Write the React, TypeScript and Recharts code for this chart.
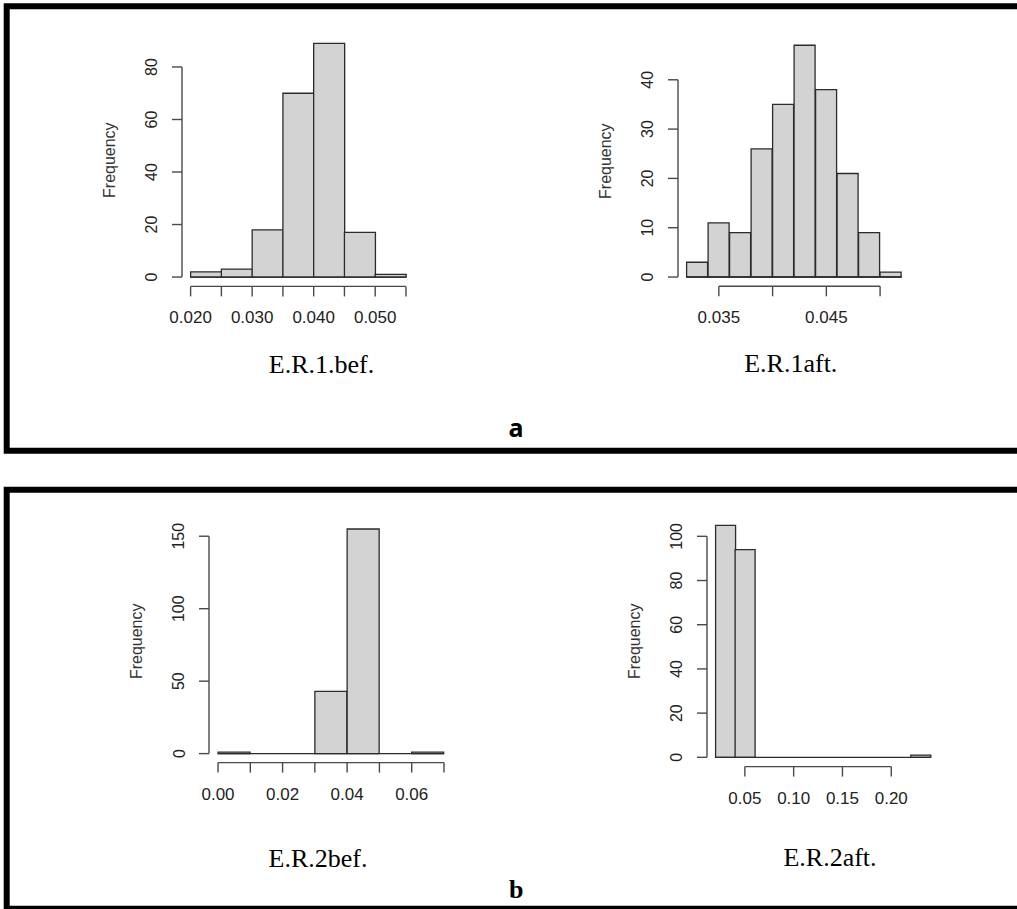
import React from 'react';
import { BarChart, Bar, XAxis, YAxis, ReferenceLine } from 'recharts';

// ---------- data ----------
const er1befEdges = [0.02, 0.025, 0.03, 0.035, 0.04, 0.045, 0.05, 0.055];
const er1befCounts = [2, 3, 18, 70, 89, 17, 1];
const er1befXTicks = [0.02, 0.025, 0.03, 0.035, 0.04, 0.045, 0.05, 0.055];
const er1befXLabels = ['0.020', '', '0.030', '', '0.040', '', '0.050', ''];
const er1befYTicks = [0, 20, 40, 60, 80];

const er1aftEdges = [0.032, 0.034, 0.036, 0.038, 0.04, 0.042, 0.044, 0.046, 0.048, 0.05, 0.052];
const er1aftCounts = [3, 11, 9, 26, 35, 47, 38, 21, 9, 1];
const er1aftXTicks = [0.035, 0.04, 0.045, 0.05];
const er1aftXLabels = ['0.035', '', '0.045', ''];
const er1aftYTicks = [0, 10, 20, 30, 40];

const er2befEdges = [0.0, 0.01, 0.02, 0.03, 0.04, 0.05, 0.06, 0.07];
const er2befCounts = [1, 0, 0, 43, 155, 0, 1];
const er2befXTicks = [0.0, 0.01, 0.02, 0.03, 0.04, 0.05, 0.06, 0.07];
const er2befXLabels = ['0.00', '', '0.02', '', '0.04', '', '0.06', ''];
const er2befYTicks = [0, 50, 100, 150];

const er2aftEdges = [0.02, 0.04, 0.06, 0.08, 0.1, 0.12, 0.14, 0.16, 0.18, 0.2, 0.22, 0.24];
const er2aftCounts = [105, 94, 0, 0, 0, 0, 0, 0, 0, 0, 1];
const er2aftXTicks = [0.05, 0.1, 0.15, 0.2];
const er2aftXLabels = ['0.05', '0.10', '0.15', '0.20'];
const er2aftYTicks = [0, 20, 40, 60, 80, 100];

const chartTitles = ['E.R.1.bef.', 'E.R.1aft.', 'E.R.2bef.', 'E.R.2aft.'];
const panelLabels = ['a', 'b'];
const yAxisTitle = 'Frequency';

// ---------- styles / layout ----------
const SANS = '"Liberation Sans", Arial, sans-serif';
const SERIF = '"Liberation Serif", "Times New Roman", serif';
const TEXT_COLOR = '#222';
const AXIS_COLOR = '#4a4a4a';
const Y_AXIS_W = 100;
const X_AXIS_H = 60;
const M_TOP = 10;
const M_RIGHT = 10;

type HistProps = {
  edges: number[];
  counts: number[];
  xTicks: number[];
  xLabels: string[];
  yTicks: number[];
  left: number;
  top: number;
  plotW: number;
  plotH: number;
};

function Histogram({ edges, counts, xTicks, xLabels, yTicks, left, top, plotW, plotH }: HistProps) {
  const data = counts.map((c, i) => ({ mid: (edges[i] + edges[i + 1]) / 2, count: c }));
  const x0 = edges[0];
  const x1 = edges[edges.length - 1];
  const xPad = 0.04 * (x1 - x0);
  const yMax = Math.max(...counts);
  const yPad = 0.04 * yMax;
  const xDomain: [number, number] = [x0 - xPad, x1 + xPad];
  const yDomain: [number, number] = [-yPad, yMax + yPad];

  const XTick = (props: any) => {
    const { x, y, payload } = props;
    const idx = xTicks.findIndex((t) => Math.abs(t - payload.value) < 1e-9);
    const label = idx >= 0 ? xLabels[idx] : '';
    if (!label) return <g />;
    return (
      <text x={x} y={y} textAnchor="middle" fill={TEXT_COLOR} fontSize={17} fontFamily={SANS}>
        {label}
      </text>
    );
  };

  const YTick = (props: any) => {
    const { x, y, payload } = props;
    return (
      <text
        x={x}
        y={y}
        transform={`rotate(-90 ${x} ${y})`}
        textAnchor="middle"
        fill={TEXT_COLOR}
        fontSize={16}
        fontFamily={SANS}
      >
        {String(payload.value)}
      </text>
    );
  };

  return (
    <div style={{ position: 'absolute', left: left - Y_AXIS_W, top: top - M_TOP }}>
      <BarChart
        width={Y_AXIS_W + plotW + M_RIGHT}
        height={M_TOP + plotH + X_AXIS_H}
        data={data}
        margin={{ top: M_TOP, right: M_RIGHT, bottom: 0, left: 0 }}
        barCategoryGap={0}
        barGap={0}
      >
        <XAxis
          dataKey="mid"
          type="number"
          domain={xDomain}
          allowDataOverflow
          ticks={xTicks}
          interval={0}
          axisLine={false}
          tickLine={{ stroke: AXIS_COLOR, strokeWidth: 1.4 }}
          tickSize={10}
          tickMargin={27}
          height={X_AXIS_H}
          tick={XTick}
        />
        <YAxis
          type="number"
          domain={yDomain}
          allowDataOverflow
          ticks={yTicks}
          interval={0}
          axisLine={false}
          tickLine={{ stroke: AXIS_COLOR, strokeWidth: 1.4 }}
          tickSize={10}
          tickMargin={14.5}
          width={Y_AXIS_W}
          tick={YTick}
          label={{
            value: yAxisTitle,
            angle: -90,
            position: 'insideLeft',
            offset: 27.5,
            fill: '#333',
            style: { textAnchor: 'middle', fontSize: 16, fontFamily: SANS, fill: '#333' },
          }}
        />
        <Bar
          dataKey="count"
          fill="#d3d3d3"
          stroke="#2b2b2b"
          strokeWidth={1.3}
          isAnimationActive={false}
        />
        <ReferenceLine
          segment={[{ x: x0, y: 0 }, { x: x1, y: 0 }]}
          stroke="#2b2b2b"
          strokeWidth={1.3}
          ifOverflow="visible"
        />
        <ReferenceLine
          segment={[{ x: xDomain[0], y: yTicks[0] }, { x: xDomain[0], y: yTicks[yTicks.length - 1] }]}
          stroke={AXIS_COLOR}
          strokeWidth={1.4}
          ifOverflow="visible"
        />
        <ReferenceLine
          segment={[{ x: xTicks[0], y: yDomain[0] }, { x: xTicks[xTicks.length - 1], y: yDomain[0] }]}
          stroke={AXIS_COLOR}
          strokeWidth={1.4}
          ifOverflow="visible"
        />
      </BarChart>
    </div>
  );
}

export default function App() {
  return (
    <div
      style={{
        position: 'absolute',
        left: 0,
        top: 0,
        width: 1017,
        height: 909,
        background: '#fff',
        overflow: 'hidden',
      }}
    >
      <svg
        width={1017}
        height={909}
        style={{ position: 'absolute', left: 0, top: 0 }}
      >
        <path d="M 1025 6.2 H 6.7 V 450.7 H 1025" fill="none" stroke="#000" strokeWidth={6} />
        <path d="M 1025 489.7 H 6.7 V 908.7 H 1025" fill="none" stroke="#000" strokeWidth={6} />
        <text x={321.5} y={372.5} textAnchor="middle" fontFamily={SERIF} fontSize={26} fill="#000">
          {chartTitles[0]}
        </text>
        <text x={790.8} y={371.7} textAnchor="middle" fontFamily={SERIF} fontSize={26} fill="#000">
          {chartTitles[1]}
        </text>
        <text x={318} y={866.5} textAnchor="middle" fontFamily={SERIF} fontSize={26} fill="#000">
          {chartTitles[2]}
        </text>
        <text x={830} y={865.7} textAnchor="middle" fontFamily={SERIF} fontSize={26} fill="#000">
          {chartTitles[3]}
        </text>
        <text
          x={516}
          y={436.6}
          textAnchor="middle"
          fontFamily='"Noto Sans", "Open Sans", sans-serif'
          fontWeight="bold"
          fontSize={25}
          fill="#000"
        >
          {panelLabels[0]}
        </text>
        <text x={516.3} y={897.7} textAnchor="middle" fontFamily={SERIF} fontWeight="bold" fontSize={26} fill="#000">
          {panelLabels[1]}
        </text>
      </svg>

      <Histogram
        edges={er1befEdges}
        counts={er1befCounts}
        xTicks={er1befXTicks}
        xLabels={er1befXLabels}
        yTicks={er1befYTicks}
        left={181.7}
        top={34.3}
        plotW={232.6}
        plotH={252.4}
      />
      <Histogram
        edges={er1aftEdges}
        counts={er1aftCounts}
        xTicks={er1aftXTicks}
        xLabels={er1aftXLabels}
        yTicks={er1aftYTicks}
        left={678.2}
        top={36.3}
        plotW={232.2}
        plotH={250.3}
      />
      <Histogram
        edges={er2befEdges}
        counts={er2befCounts}
        xTicks={er2befXTicks}
        xLabels={er2befXLabels}
        yTicks={er2befYTicks}
        left={209.3}
        top={519.7}
        plotW={244}
        plotH={242.6}
      />
      <Histogram
        edges={er2aftEdges}
        counts={er2aftCounts}
        xTicks={er2aftXTicks}
        xLabels={er2aftXLabels}
        yTicks={er2aftYTicks}
        left={707.4}
        top={516.4}
        plotW={231.9}
        plotH={250.6}
      />
    </div>
  );
}
